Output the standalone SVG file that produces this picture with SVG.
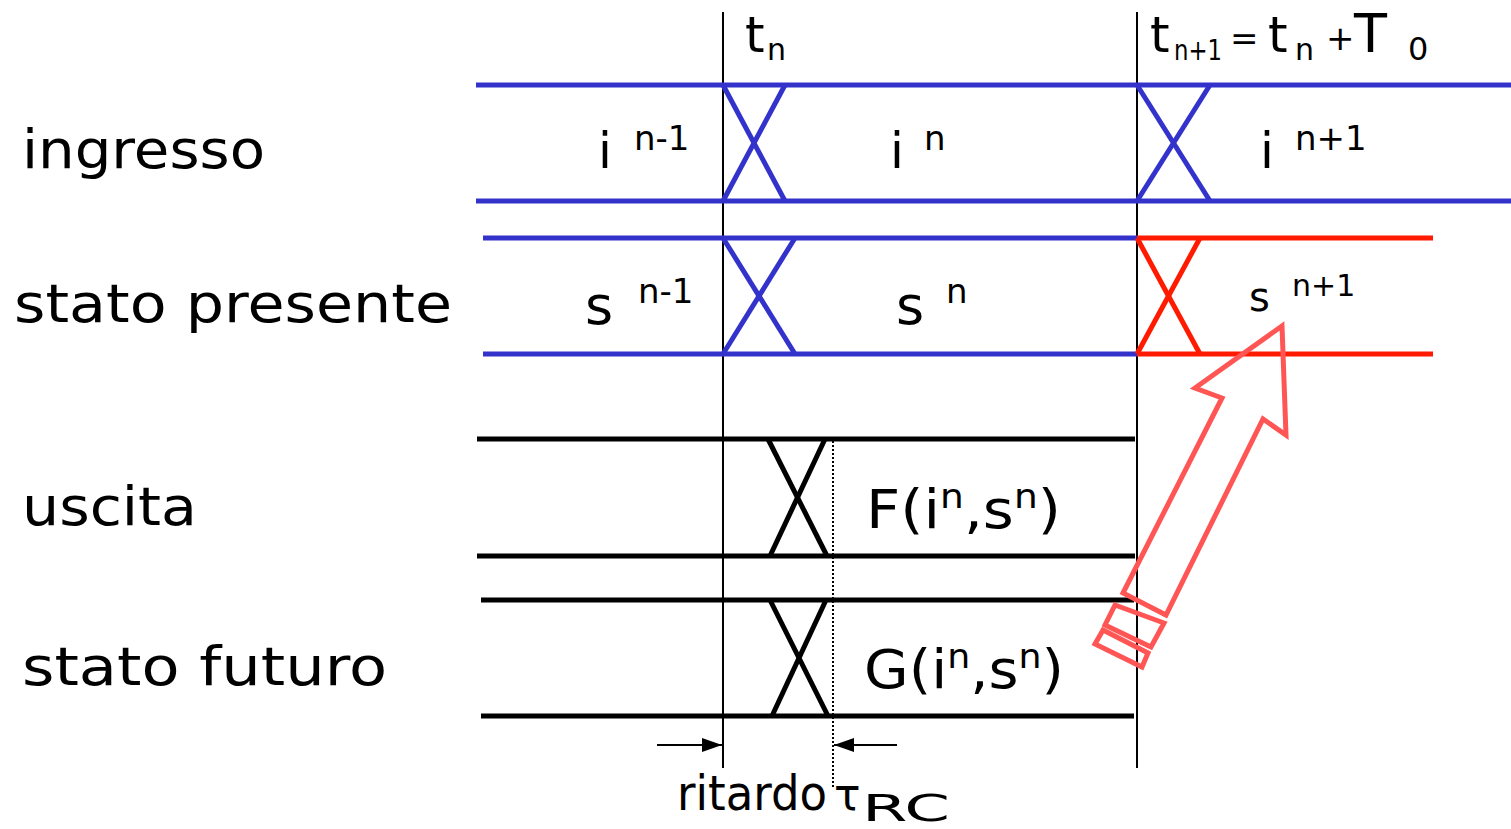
<svg xmlns="http://www.w3.org/2000/svg" width="1511" height="829" viewBox="0 0 1511 829">
<style>
.t{font-family:"DejaVu Sans","Liberation Sans",sans-serif;fill:#000}
.blue{stroke:#3333cc;stroke-width:5;fill:none}
.red{stroke:#ff1a00;stroke-width:5;fill:none}
.blk{stroke:#000;stroke-width:5;fill:none}
.thin{stroke:#000;stroke-width:2;fill:none}
</style>
<defs>
<marker id="ah2" viewBox="0 0 20 14" refX="20" refY="7" markerWidth="20" markerHeight="14" markerUnits="userSpaceOnUse" orient="auto">
<path d="M0,0 L20,7 L0,14 z" fill="#000"/>
</marker>
</defs>
<g id="labels">
<text class="t" x="22" y="168" font-size="54" textLength="243" lengthAdjust="spacingAndGlyphs">ingresso</text>
<text class="t" x="14" y="322" font-size="54" textLength="438" lengthAdjust="spacingAndGlyphs">stato presente</text>
<text class="t" x="22" y="525" font-size="54" textLength="175" lengthAdjust="spacingAndGlyphs">uscita</text>
<text class="t" x="22" y="685" font-size="54" textLength="365" lengthAdjust="spacingAndGlyphs">stato futuro</text>
</g>
<g id="time-markers">
<line class="thin" x1="723" y1="12" x2="723" y2="768"/>
<line class="thin" x1="1137" y1="12" x2="1137" y2="768"/>
<line stroke="#000" stroke-width="2" stroke-dasharray="2,2" x1="833" y1="441" x2="833" y2="788"/>
<text class="t" x="745" y="52" font-size="50">t</text>
<text class="t" x="767" y="60" font-size="30">n</text>
<text class="t" x="1150" y="52" font-size="50">t</text>
<text class="t" x="1174" y="60" font-size="28" textLength="48" lengthAdjust="spacingAndGlyphs">n+1</text>
<text class="t" x="1230" y="50" font-size="34">=</text>
<text class="t" x="1268" y="52" font-size="50">t</text>
<text class="t" x="1295" y="60" font-size="30">n</text>
<text class="t" x="1326" y="50" font-size="34">+</text>
<text class="t" x="1354" y="52" font-size="54">T</text>
<text class="t" x="1408" y="60" font-size="32">0</text>
</g>
<g id="ingresso">
<line class="blue" x1="476" y1="85" x2="1511" y2="85"/>
<line class="blue" x1="476" y1="201" x2="1511" y2="201"/>
<polyline class="blue" points="723,85 785,201"/>
<polyline class="blue" points="723,201 785,85"/>
<polyline class="blue" points="1137,85 1210,201"/>
<polyline class="blue" points="1137,201 1210,85"/>
<text class="t" x="598" y="168" font-size="50">i</text>
<text class="t" x="634" y="150" font-size="34">n-1</text>
<text class="t" x="890" y="168" font-size="50">i</text>
<text class="t" x="924" y="150" font-size="34">n</text>
<text class="t" x="1260" y="168" font-size="50">i</text>
<text class="t" x="1295" y="150" font-size="34">n+1</text>
</g>
<g id="stato-presente">
<line class="blue" x1="483" y1="238" x2="1137" y2="238"/>
<line class="blue" x1="483" y1="354" x2="1137" y2="354"/>
<polyline class="blue" points="723,238 795,354"/>
<polyline class="blue" points="723,354 795,238"/>
<line class="red" x1="1137" y1="238" x2="1433" y2="238"/>
<line class="red" x1="1137" y1="354" x2="1433" y2="354"/>
<polyline class="red" points="1137,238 1200,354"/>
<polyline class="red" points="1137,354 1200,238"/>
<text class="t" x="585" y="324" font-size="54">s</text>
<text class="t" x="638" y="303" font-size="34">n-1</text>
<text class="t" x="896" y="324" font-size="54">s</text>
<text class="t" x="946" y="303" font-size="34">n</text>
<text class="t" x="1249" y="311" font-size="40">s</text>
<text class="t" x="1292" y="296" font-size="30">n+1</text>
</g>
<g id="uscita">
<line class="blk" x1="477" y1="439" x2="1135" y2="439"/>
<line class="blk" x1="477" y1="556" x2="1135" y2="556"/>
<polyline class="blk" points="768,439 827,556"/>
<polyline class="blk" points="770,556 825,439"/>
<text class="t" x="866" y="528" font-size="54" textLength="195" lengthAdjust="spacingAndGlyphs">F(i<tspan font-size="34" dy="-20">n</tspan><tspan dy="20">,s</tspan><tspan font-size="34" dy="-20">n</tspan><tspan dy="20">)</tspan></text>
</g>
<g id="stato-futuro">
<line class="blk" x1="481" y1="600" x2="1134" y2="600"/>
<line class="blk" x1="481" y1="716" x2="1134" y2="716"/>
<polyline class="blk" points="770,600 828,716"/>
<polyline class="blk" points="772,716 826,600"/>
<text class="t" x="864" y="688" font-size="54" textLength="200" lengthAdjust="spacingAndGlyphs">G(i<tspan font-size="34" dy="-20">n</tspan><tspan dy="20">,s</tspan><tspan font-size="34" dy="-20">n</tspan><tspan dy="20">)</tspan></text>
</g>
<g id="connectors">
<line stroke="#000" stroke-width="2" x1="657" y1="745" x2="722" y2="745" marker-end="url(#ah2)"/>
<line stroke="#000" stroke-width="2" x1="897" y1="745" x2="834" y2="745" marker-end="url(#ah2)"/>
<g fill="none" stroke="#ff5555" stroke-width="5" stroke-linejoin="miter">
<polygon points="1282,326 1286,435 1263,419 1166,615 1123,593 1222,398 1195,388"/>
<polygon points="1115,605 1164,623 1151,647 1105,625"/>
<polygon points="1103,630 1148,653 1142,667 1095,644"/>
</g>
</g>
<g id="delay-label">
<text class="t" x="677" y="810" font-size="48" textLength="150" lengthAdjust="spacingAndGlyphs">ritardo</text>
<text class="t" x="834" y="810" font-size="44">τ</text>
<text class="t" x="862" y="821" font-size="38" textLength="88" lengthAdjust="spacingAndGlyphs">RC</text>
</g>
</svg>
